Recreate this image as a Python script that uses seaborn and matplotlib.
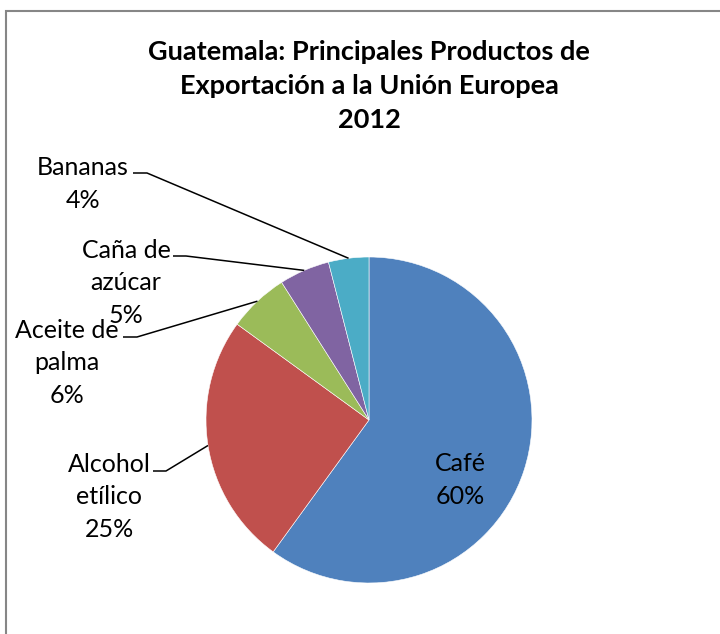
"""Guatemala: principales productos de exportación a la UE, 2012 (pie chart)."""

import numpy as np
import matplotlib
matplotlib.use("Agg")
import matplotlib.pyplot as plt
from matplotlib.patches import Rectangle
import seaborn as sns

# data
products = ["Café", "Alcohol etílico", "Aceite de palma", "Caña de azúcar", "Bananas"]
shares = [60, 25, 6, 5, 4]
label_text = ["Café", "Alcohol\netílico", "Aceite de\npalma", "Caña de\nazúcar", "Bananas"]
colors = ["#4F81BD", "#C0504D", "#9BBB59", "#8064A2", "#4BACC6"]

sns.set_theme(style="white")
plt.rcParams["font.family"] = ["Lato", "DejaVu Sans"]

W, H, DPI = 720, 634, 100
CX, CY, R = 369, 420, 163  # pie centre and radius in pixels


def px(x, y):
    """pixel position -> data coords (pie radius = 1)"""
    return (x - CX) / R, (CY - y) / R


fig = plt.figure(figsize=(W / DPI, H / DPI), dpi=DPI)
ax = fig.add_axes([0, 0, 1, 1])

wedges, _ = ax.pie(shares, colors=colors, startangle=90, counterclock=False,
                   radius=1, wedgeprops=dict(linewidth=0.4, edgecolor="white"))
ax.set_xlim(-CX / R, (W - CX) / R)
ax.set_ylim((CY - H) / R, CY / R)
ax.axis("off")

# label layout: text centre, leader start, leader knee (pixels)
layout = {
    "Alcohol etílico": ((109, 497), (153, 471), (166, 471)),
    "Aceite de palma": ((67, 363), (123, 337), (137, 337)),
    "Caña de azúcar": ((126, 283), (173, 256), (186, 256)),
    "Bananas": ((83, 184), (133, 173), (147, 173)),
}

lbl_size = 18
for w, name, txt, val in zip(wedges, products, label_text, shares):
    full = f"{txt}\n{val}%"
    if name == "Café":
        ax.text(*px(460, 480), full, ha="center", va="center",
                fontsize=lbl_size, linespacing=1.5, color="black")
        continue
    mid = np.deg2rad((w.theta1 + w.theta2) / 2)
    anchor = (np.cos(mid), np.sin(mid))
    tpos, start, knee = layout[name]
    ax.text(*px(*tpos), full, ha="center", va="center",
            fontsize=lbl_size, linespacing=1.5, color="black")
    xs = [px(*start)[0], px(*knee)[0], anchor[0]]
    ys = [px(*start)[1], px(*knee)[1], anchor[1]]
    ax.plot(xs, ys, color="black", linewidth=1.1, solid_capstyle="butt")

fig.text(CX / W, 1 - 86 / H,
         "Guatemala: Principales Productos de\nExportación a la Unión Europea\n2012",
         ha="center", va="center", fontsize=19.5, fontweight="bold",
         linespacing=1.48, color="black")

# chart frame (cropped on the right and bottom)
fig.patches.append(Rectangle((6 / W, -0.05), 1.1, 1 - 11 / H + 0.05,
                             transform=fig.transFigure, fill=False,
                             edgecolor="#868686", linewidth=1.5))

fig.savefig("out.png", dpi=DPI)
